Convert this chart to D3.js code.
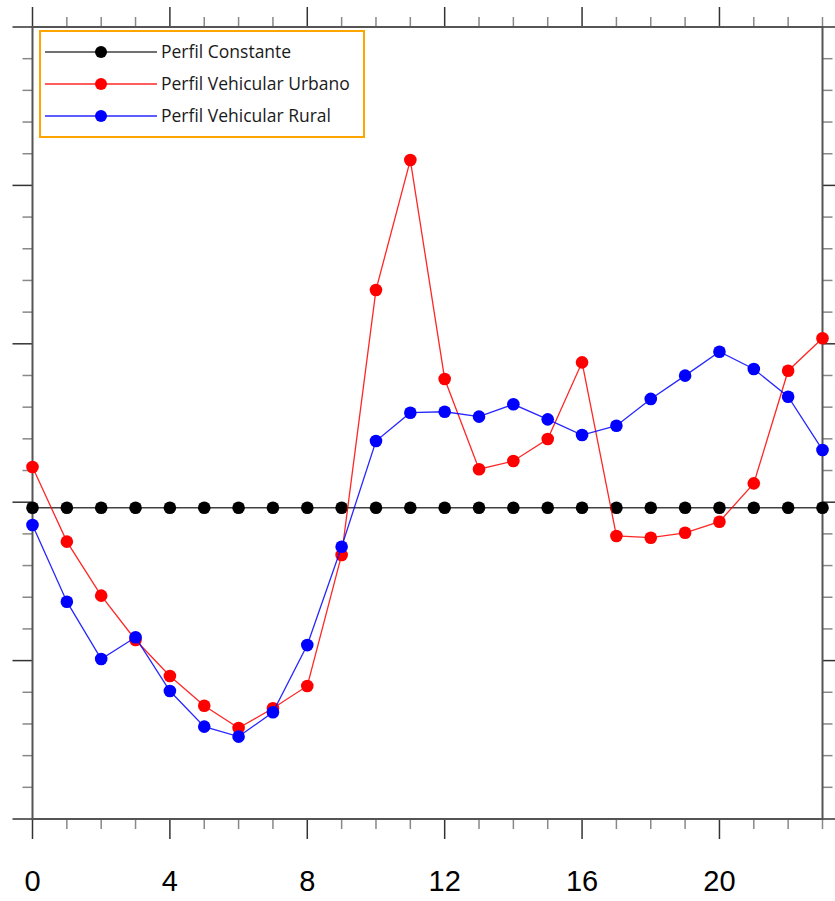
<!DOCTYPE html>
<html><head><meta charset="utf-8">
<script src="https://cdn.jsdelivr.net/npm/d3@7"></script>
<style>body{margin:0;background:#fff}svg{display:block}</style>
</head><body>
<script>
const hours = d3.range(0, 24);
const constante = [-0.035,-0.035,-0.035,-0.035,-0.035,-0.035,-0.035,-0.035,-0.035,-0.035,-0.035,-0.035,-0.035,-0.035,-0.035,-0.035,-0.035,-0.035,-0.035,-0.035,-0.035,-0.035,-0.035,-0.035];
const urbano = [0.222,-0.249,-0.590,-0.870,-1.097,-1.285,-1.426,-1.301,-1.160,-0.333,1.340,2.160,0.778,0.208,0.260,0.399,0.883,-0.213,-0.224,-0.193,-0.123,0.119,0.830,1.035];
const rural = [-0.144,-0.628,-0.990,-0.853,-1.192,-1.417,-1.480,-1.326,-0.902,-0.281,0.386,0.565,0.571,0.540,0.618,0.523,0.424,0.483,0.652,0.799,0.950,0.841,0.666,0.330];
const xTickLabels = [0, 4, 8, 12, 16, 20];
const seriesNames = ["Perfil Constante", "Perfil Vehicular Urbano", "Perfil Vehicular Rural"];
const seriesColors = ["#000000", "#ff0000", "#0000ff"];
const seriesData = [constante, urbano, rural];

const W = 835, H = 901;
const L = 32.5, R = 822.5, T = 27, B = 819;
const svg = d3.select("body").append("svg").attr("width", W).attr("height", H);
const x = d3.scaleLinear().domain([0, 23]).range([L, R]);
const y = d3.scaleLinear().domain([-2, 3]).range([B, T]);

const axisColor = "#555";
const frame = svg.append("g");
const xMinor = d3.range(0, 24);
const yMinor = d3.range(-2, 3.0001, 0.2).map(v => +v.toFixed(2));
function isMajorX(v){ return v % 4 === 0; }
function isMajorY(v){ return Math.abs(v - Math.round(v)) < 1e-6; }
frame.selectAll(".xb").data(xMinor).join("line")
  .attr("x1", d => x(d)).attr("x2", d => x(d))
  .attr("y1", B).attr("y2", d => B + (isMajorX(d) ? 20 : 10))
  .attr("stroke", d => isMajorX(d) ? "#333" : "#888").attr("stroke-width", 1.5);
frame.selectAll(".xt").data(xMinor).join("line")
  .attr("x1", d => x(d)).attr("x2", d => x(d))
  .attr("y1", T).attr("y2", d => T - (isMajorX(d) ? 20 : 10))
  .attr("stroke", d => isMajorX(d) ? "#333" : "#888").attr("stroke-width", 1.5);
frame.selectAll(".yl").data(yMinor).join("line")
  .attr("y1", d => y(d)).attr("y2", d => y(d))
  .attr("x1", L).attr("x2", d => L - (isMajorY(d) ? 20 : 10))
  .attr("stroke", d => isMajorY(d) ? "#333" : "#888").attr("stroke-width", 1.5);
frame.selectAll(".yr").data(yMinor).join("line")
  .attr("y1", d => y(d)).attr("y2", d => y(d))
  .attr("x1", R).attr("x2", d => R + (isMajorY(d) ? 20 : 10))
  .attr("stroke", d => isMajorY(d) ? "#333" : "#888").attr("stroke-width", 1.5);
frame.append("rect").attr("x", L).attr("y", T).attr("width", R - L).attr("height", B - T)
  .attr("fill", "none").attr("stroke", axisColor).attr("stroke-width", 2);

svg.selectAll(".xl").data(xTickLabels).join("text")
  .attr("x", d => x(d)).attr("y", 891)
  .attr("text-anchor", "middle")
  .attr("font-family", "Liberation Sans, Arial, sans-serif")
  .attr("font-size", 29).attr("fill", "#000").text(d => d);

const line = d3.line().x((d, i) => x(hours[i])).y(d => y(d));
seriesData.forEach((data, k) => {
  const g = svg.append("g");
  g.append("path").attr("d", line(data)).attr("fill", "none")
    .attr("stroke", seriesColors[k]).attr("stroke-width", k === 0 ? 1.6 : 1.3)
    .attr("stroke-opacity", k === 0 ? 0.75 : 0.85);
  g.selectAll("circle").data(data).join("circle")
    .attr("cx", (d, i) => x(hours[i])).attr("cy", d => y(d)).attr("r", 6.3)
    .attr("fill", seriesColors[k]);
});

const lg = svg.append("g");
lg.append("rect").attr("x", 40).attr("y", 31).attr("width", 324).attr("height", 106)
  .attr("fill", "#fff").attr("stroke", "#ffa500").attr("stroke-width", 2);
seriesNames.forEach((name, k) => {
  const yy = 52 + k * 32;
  lg.append("line").attr("x1", 45).attr("x2", 157).attr("y1", yy).attr("y2", yy)
    .attr("stroke", seriesColors[k]).attr("stroke-width", 1.3).attr("stroke-opacity", k === 0 ? 0.75 : 0.85);
  lg.append("circle").attr("cx", 101).attr("cy", yy).attr("r", 6).attr("fill", seriesColors[k]);
  lg.append("text").attr("x", 161).attr("y", yy + 6)
    .attr("font-family", "Open Sans, Noto Sans, sans-serif").attr("font-size", 17.5)
    .attr("fill", "#1a1a1a").text(name);
});
</script>
</body></html>
